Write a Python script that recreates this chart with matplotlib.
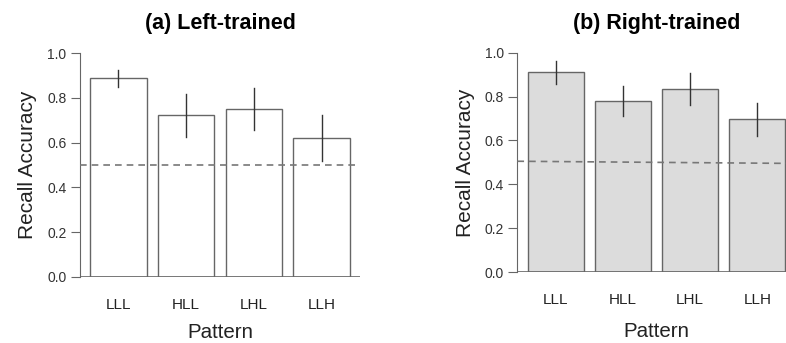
import matplotlib.pyplot as plt
import numpy as np

plt.rcParams['font.family'] = ['Liberation Sans', 'DejaVu Sans']

patterns = ['LLL', 'HLL', 'LHL', 'LLH']

# (a) left-trained
left_mean = [0.887, 0.722, 0.750, 0.622]
left_lo = [0.850, 0.626, 0.655, 0.518]
left_hi = [0.923, 0.817, 0.844, 0.723]
left_chance = [0.5, 0.5]

# (b) right-trained
right_mean = [0.910, 0.780, 0.834, 0.698]
right_lo = [0.859, 0.710, 0.763, 0.620]
right_hi = [0.961, 0.850, 0.906, 0.771]
right_chance = [0.505, 0.495]

yticks = [0.0, 0.2, 0.4, 0.6, 0.8, 1.0]

fig = plt.figure(figsize=(7.86, 3.43), dpi=100)

# R-style barplot positions: width 1, space 0.2
xpos = 0.7 + 1.2 * np.arange(len(patterns))
xlim = (0.016, 4.984)


def panel(rect, title, mean, lo, hi, chance, fill, xpad):
    ax = fig.add_axes(rect)
    ax.bar(xpos, mean, width=1.0, color=fill, edgecolor='#666666', linewidth=1.0, zorder=2)
    for x, l, h in zip(xpos, lo, hi):
        ax.plot([x, x], [l, h], color='#333333', lw=1.0, zorder=3)
    ax.plot(xlim, chance, color='#777777', lw=1.2, ls=(0, (4, 3)), zorder=4)
    ax.axhline(0, color='#666666', lw=1.2, zorder=5)
    ax.set_xlim(*xlim)
    ax.set_ylim(0, 1)
    for s in ['top', 'right', 'bottom']:
        ax.spines[s].set_visible(False)
    ax.spines['left'].set_color('#666666')
    ax.spines['left'].set_position(('data', xlim[0]))
    ax.set_yticks(yticks)
    ax.set_yticklabels(['%.1f' % v for v in yticks])
    ax.tick_params(axis='y', length=6.5, color='#666666', labelsize=10, labelcolor='#333333', pad=3)
    ax.set_xticks(xpos)
    ax.set_xticklabels(patterns)
    ax.tick_params(axis='x', length=0, labelsize=11, labelcolor='#222222', pad=15)
    ax.set_ylabel('Recall Accuracy', fontsize=15, color='#222222', labelpad=7)
    ax.set_xlabel('Pattern', fontsize=14.8, color='#222222', labelpad=xpad)
    ax.set_title(title, fontsize=15.5, fontweight='bold', pad=17)
    for sp in ax.spines.values():
        sp.set_clip_on(False)
    return ax


panel([79.6 / 786, 66 / 343, 280.8 / 786, 224 / 343], '(a) Left-trained',
      left_mean, left_lo, left_hi, left_chance, 'white', 8)
panel([517.4 / 786, 71 / 343, 278.2 / 786, 219.3 / 343], '(b) Right-trained',
      right_mean, right_lo, right_hi, right_chance, '#dcdcdc', 11)

fig.savefig('out.png', dpi=100)
